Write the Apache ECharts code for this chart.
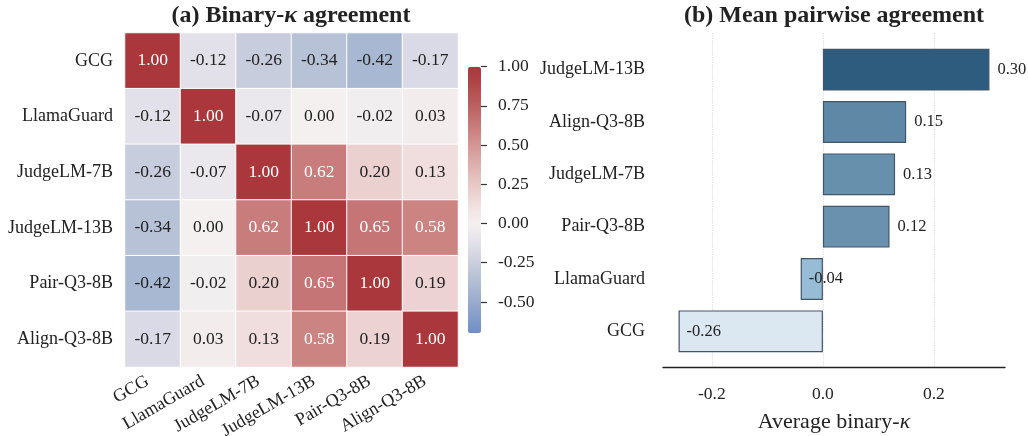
<!DOCTYPE html>
<html>
<head>
<meta charset="utf-8">
<script src="https://cdn.jsdelivr.net/npm/echarts@6/dist/echarts.min.js"></script>
<style>
  html, body { margin: 0; padding: 0; background: #fff; }
  #chart { width: 1028px; height: 436px; }
</style>
</head>
<body>
<div id="chart"></div>
<script>
// heatmap data (rows top to bottom, columns left to right)
const models = ['GCG', 'LlamaGuard', 'JudgeLM-7B', 'JudgeLM-13B', 'Pair-Q3-8B', 'Align-Q3-8B'];
const kappa = [
  [1.00, -0.12, -0.26, -0.34, -0.42, -0.17],
  [-0.12, 1.00, -0.07, 0.00, -0.02, 0.03],
  [-0.26, -0.07, 1.00, 0.62, 0.20, 0.13],
  [-0.34, 0.00, 0.62, 1.00, 0.65, 0.58],
  [-0.42, -0.02, 0.20, 0.65, 1.00, 0.19],
  [-0.17, 0.03, 0.13, 0.58, 0.19, 1.00]
];
const cbarTicks = [-0.5, -0.25, 0, 0.25, 0.5, 0.75, 1.0];

// bar data (top to bottom)
const barModels = ['JudgeLM-13B', 'Align-Q3-8B', 'JudgeLM-7B', 'Pair-Q3-8B', 'LlamaGuard', 'GCG'];
const barValues = [0.30, 0.15, 0.13, 0.12, -0.04, -0.26];
const barTicks = [-0.2, 0, 0.2];

const barColors = ['#2e5c7e', '#5e88a6', '#6790ad', '#6a92af', '#97bcd5', '#dbe8f2'];
// vlag-like ramp, one colour per 0.1 from -0.7 to 1.0
const vlag = ['#6e8ec6', '#839ccb', '#98aace', '#acbad3', '#c0c7d9', '#d4d6e2', '#e6e4eb', '#f4f0f0',
  '#f2e2e2', '#ebd0d0', '#e4bebd', '#dcaaa9', '#d39695', '#ca807f', '#c06b6b', '#b75757', '#af4548', '#a9373b'];

const FONT = '"Liberation Serif", "Times New Roman", serif';
const INK = '#222222';

const heatData = [];
kappa.forEach((row, r) => {
  row.forEach((v, c) => {
    heatData.push({ value: [c, r, v], label: { color: v > 0.45 ? '#ffffff' : INK } });
  });
});

const barData = barValues.map((v, i) => ({
  value: v,
  itemStyle: { color: barColors[i] },
  label: v >= 0 ? { position: 'right', distance: 8 } : { position: 'insideLeft', distance: 8 }
}));

const chart = echarts.init(document.getElementById('chart'), null, { renderer: 'canvas' });

chart.setOption({
  animation: false,
  textStyle: { fontFamily: FONT, color: INK },
  graphic: [
    {
      type: 'text', x: 291, y: 16,
      style: {
        text: '(a) Binary-{i|κ} agreement',
        align: 'center', verticalAlign: 'middle',
        fontFamily: FONT, fontSize: 24, fontWeight: 'bold', fill: INK,
        rich: { i: { fontFamily: FONT, fontSize: 24, fontWeight: 'bold', fontStyle: 'italic', fill: INK } }
      }
    },
    {
      type: 'text', x: 834, y: 16,
      style: {
        text: '(b) Mean pairwise agreement',
        align: 'center', verticalAlign: 'middle',
        fontFamily: FONT, fontSize: 24, fontWeight: 'bold', fill: INK
      }
    }
  ],
  visualMap: {
    type: 'continuous',
    seriesIndex: 0,
    min: -0.7,
    max: 1.0,
    calculable: false,
    text: null,
    padding: 0,
    left: 468,
    top: 66.7,
    itemWidth: 13,
    itemHeight: 266.6,
    inRange: { color: vlag }
  },
  grid: [
    { left: 125, top: 33, width: 333, height: 334, outerBoundsMode: 'none' },
    { left: 468, top: 66.7, width: 13, height: 266.6, outerBoundsMode: 'none' },
    { left: 663, top: 43.5, width: 342, height: 314, outerBoundsMode: 'none' },
    { left: 663, top: 33, width: 342, height: 334, outerBoundsMode: 'none' }
  ],
  xAxis: [
    {
      type: 'category', gridIndex: 0, data: models,
      axisLine: { show: false }, axisTick: { show: false }, splitLine: { show: false },
      axisLabel: { rotate: 30, fontSize: 18, color: INK, margin: 10, padding: [0, 6, 0, 0], fontFamily: FONT }
    },
    { type: 'value', gridIndex: 1, show: false },
    {
      type: 'value', gridIndex: 2, min: -0.288, max: 0.328, offset: 9.5,
      axisLine: { show: true, lineStyle: { color: '#222', width: 1.3 } },
      axisTick: { show: false, customValues: barTicks },
      splitLine: { show: false },
      axisLabel: {
        customValues: barTicks, fontSize: 17.5, color: INK, margin: 18, fontFamily: FONT,
        formatter: v => v.toFixed(1)
      },
      name: 'Average binary-{i|κ}',
      nameLocation: 'middle',
      nameGap: 44,
      nameTextStyle: {
        fontSize: 22, color: INK, fontFamily: FONT,
        rich: { i: { fontSize: 22, color: INK, fontFamily: FONT, fontStyle: 'italic' } }
      }
    },
    {
      type: 'value', gridIndex: 3, min: -0.288, max: 0.328,
      axisLine: { show: false },
      axisTick: { show: false, customValues: barTicks },
      axisLabel: { show: false, customValues: barTicks },
      splitLine: { show: true, lineStyle: { color: '#dedede', type: 'dotted', width: 1.2 } }
    }
  ],
  yAxis: [
    {
      type: 'category', gridIndex: 0, data: models, inverse: true,
      axisLine: { show: false }, axisTick: { show: false }, splitLine: { show: false },
      axisLabel: { fontSize: 18, color: INK, margin: 12, fontFamily: FONT }
    },
    {
      type: 'value', gridIndex: 1, min: -0.7, max: 1.0, position: 'right',
      axisLine: { show: true, onZero: false, lineStyle: { color: 'rgba(0,0,0,0)' } },
      splitLine: { show: false },
      axisTick: { show: true, inside: false, length: 6, customValues: cbarTicks, lineStyle: { color: '#333', width: 1.2 } },
      axisLabel: {
        customValues: cbarTicks, fontSize: 17.5, color: INK, margin: 17, fontFamily: FONT,
        formatter: v => v.toFixed(2)
      }
    },
    {
      type: 'category', gridIndex: 2, data: barModels, inverse: true,
      axisLine: { show: false }, axisTick: { show: false }, splitLine: { show: false },
      axisLabel: { fontSize: 18, color: INK, margin: 18, fontFamily: FONT }
    },
    { type: 'value', gridIndex: 3, show: false }
  ],
  series: [
    {
      type: 'heatmap',
      xAxisIndex: 0, yAxisIndex: 0,
      data: heatData,
      itemStyle: { borderColor: '#ffffff', borderWidth: 1 },
      label: {
        show: true, fontSize: 17.5, fontFamily: FONT,
        formatter: p => p.value[2].toFixed(2)
      },
      emphasis: { disabled: true }
    },
    {
      type: 'bar',
      xAxisIndex: 2, yAxisIndex: 2,
      barWidth: '80%',
      data: barData,
      itemStyle: { borderColor: '#42556a', borderWidth: 1.2 },
      label: {
        show: true, fontSize: 16.5, color: INK, fontFamily: FONT,
        formatter: p => p.value.toFixed(2)
      },
      emphasis: { disabled: true }
    }
  ]
});
</script>
</body>
</html>
